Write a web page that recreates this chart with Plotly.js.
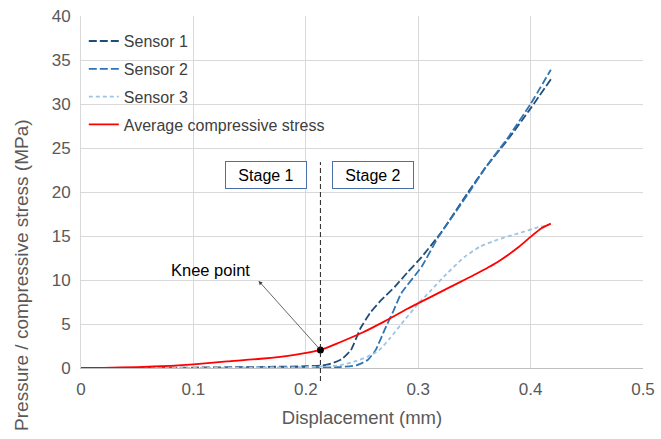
<!DOCTYPE html>
<html>
<head>
<meta charset="utf-8">
<script src="https://cdn.plot.ly/plotly-3.0.1.min.js"></script>
<style>html,body{margin:0;padding:0;background:#fff;}#chart{width:661px;height:439px;}</style>
</head>
<body>
<div id="chart"></div>
<script>
// ---- data ----
const sensor1X = [0, 0.05, 0.1, 0.15, 0.2, 0.215, 0.225, 0.232, 0.24, 0.249, 0.258, 0.267, 0.279, 0.29, 0.303, 0.321, 0.344, 0.36, 0.38, 0.40, 0.419];
const sensor1Y = [0, 0.0, 0.05, 0.1, 0.2, 0.3, 0.6, 1.0, 2.0, 4.6, 6.4, 7.7, 9.2, 10.8, 12.6, 15.5, 19.9, 22.8, 26.0, 29.5, 33.0];

const sensor2X = [0, 0.05, 0.1, 0.15, 0.2, 0.23, 0.245, 0.255, 0.262, 0.27, 0.278, 0.285, 0.303, 0.318, 0.344, 0.36, 0.38, 0.40, 0.418];
const sensor2Y = [0, 0.0, 0.0, 0.05, 0.05, 0.1, 0.3, 0.9, 2.0, 4.3, 6.5, 8.5, 11.5, 14.9, 19.7, 22.8, 26.2, 30.0, 33.9];

const sensor3X = [0, 0.05, 0.1, 0.15, 0.2, 0.23, 0.245, 0.255, 0.265, 0.275, 0.285, 0.3, 0.312, 0.323, 0.341, 0.355, 0.371, 0.389, 0.407, 0.416];
const sensor3Y = [0, 0.0, 0.0, 0.05, 0.1, 0.3, 0.8, 1.3, 2.0, 3.4, 5.0, 7.3, 8.9, 10.4, 12.6, 13.8, 14.6, 15.3, 16.0, 16.25];

const avgX = [0, 0.02, 0.05, 0.08, 0.1, 0.13, 0.16, 0.19, 0.213, 0.23, 0.25, 0.27, 0.29, 0.31, 0.33, 0.35, 0.37, 0.39, 0.40, 0.41, 0.418];
const avgY = [0, 0.02, 0.1, 0.25, 0.42, 0.75, 1.05, 1.5, 2.05, 2.9, 4.0, 5.3, 6.7, 8.0, 9.3, 10.6, 12.0, 13.8, 14.9, 15.9, 16.4];

const seriesNames = ['Sensor 1', 'Sensor 2', 'Sensor 3', 'Average compressive stress'];

const kneeX = [0.213];
const kneeY = [2.05];
const kneeLabel = 'Knee point';
const kneeLabelPos = [0.115, 11.1];
const kneeArrowHead = [0.158, 9.9];

const stageLabels = ['Stage 1', 'Stage 2'];
const stageX = [0.1643, 0.2598];
const stageY = 21.93;
const dividerTop = 23.4;

const xTicks = [0, 0.1, 0.2, 0.3, 0.4, 0.5];
const xTickText = ['0', '0.1', '0.2', '0.3', '0.4', '0.5'];
const yTicks = [0, 5, 10, 15, 20, 25, 30, 35, 40];
const xTitle = 'Displacement (mm)';
const yTitle = 'Pressure / compressive stress (MPa)';

// ---- chart ----
const FONT = 'Liberation Sans, Arial, sans-serif';
const traces = [
  {x: sensor1X, y: sensor1Y, name: seriesNames[0], mode: 'lines', line: {color: '#1F4E79', width: 1.8, dash: '8px,3px', shape: 'spline', smoothing: 0.4}},
  {x: sensor2X, y: sensor2Y, name: seriesNames[1], mode: 'lines', line: {color: '#2E75B6', width: 1.8, dash: '8px,3px', shape: 'spline', smoothing: 0.4}},
  {x: sensor3X, y: sensor3Y, name: seriesNames[2], mode: 'lines', line: {color: '#9DC3E6', width: 1.8, dash: '4px,3px', shape: 'spline', smoothing: 0.5}},
  {x: avgX, y: avgY, name: seriesNames[3], mode: 'lines', line: {color: '#FF0000', width: 1.8, shape: 'spline', smoothing: 0.6}},
  {x: kneeX, y: kneeY, mode: 'markers', showlegend: false, hoverinfo: 'skip', marker: {color: '#000', size: 7}}
];

const annotations = [
  {x: kneeLabelPos[0], y: kneeLabelPos[1], xref: 'x', yref: 'y', text: kneeLabel, showarrow: false,
   font: {family: FONT, size: 16.5, color: '#000'}},
  {x: kneeArrowHead[0], y: kneeArrowHead[1], xref: 'x', yref: 'y', ax: kneeX[0], ay: kneeY[0], axref: 'x', ayref: 'y',
   text: '', showarrow: true, arrowhead: 2, arrowsize: 1, arrowwidth: 0.8, arrowcolor: '#404040', standoff: 0, startstandoff: 0},
  {x: -0.107, y: 0.264, xref: 'paper', yref: 'paper', text: yTitle, textangle: -90, showarrow: false,
   xanchor: 'center', yanchor: 'middle', font: {family: FONT, size: 19, color: '#595959'}}
];
stageLabels.forEach((t, i) => {
  annotations.push({x: stageX[i], y: stageY, xref: 'x', yref: 'y', text: t, showarrow: false,
    width: 78, height: 24, borderpad: 1, borderwidth: 1, bordercolor: '#4A6FAE', bgcolor: '#fff',
    font: {family: FONT, size: 16, color: '#000'}});
});

const layout = {
  width: 661, height: 439,
  margin: {l: 81, r: 18, t: 16, b: 71},
  paper_bgcolor: '#fff', plot_bgcolor: '#fff',
  font: {family: FONT, color: '#595959'},
  showlegend: true,
  legend: {x: 0.005, y: 0.977, xanchor: 'left', yanchor: 'top', bgcolor: 'rgba(0,0,0,0)',
    font: {family: FONT, size: 16, color: '#404040'}, itemwidth: 30, tracegroupgap: 4},
  xaxis: {range: [0, 0.5], tickvals: xTicks, ticktext: xTickText, showgrid: true, gridcolor: '#d9d9d9',
    zeroline: false, showline: true, linecolor: '#bfbfbf', ticks: '', ticklabelstandoff: 6,
    tickfont: {family: FONT, size: 17, color: '#595959'},
    title: {text: xTitle, font: {family: FONT, size: 18.5, color: '#595959'}, standoff: 12}},
  yaxis: {range: [0, 40], tickvals: yTicks, showgrid: true, gridcolor: '#d9d9d9',
    zeroline: false, showline: true, linecolor: '#d9d9d9', ticks: '', ticklabelstandoff: 6,
    tickfont: {family: FONT, size: 17, color: '#595959'}},
  shapes: [
    {type: 'line', xref: 'x', yref: 'paper', x0: kneeX[0], x1: kneeX[0], y0: -0.037, y1: dividerTop / 40,
     line: {color: '#222', width: 1, dash: '5px,3px'}}
  ],
  annotations: annotations
};
traces.forEach((t, i) => { if (t.showlegend !== false) t.legendgroup = 'g' + i; });
Plotly.newPlot('chart', traces, layout, {displayModeBar: false, staticPlot: true});
</script>
</body>
</html>
